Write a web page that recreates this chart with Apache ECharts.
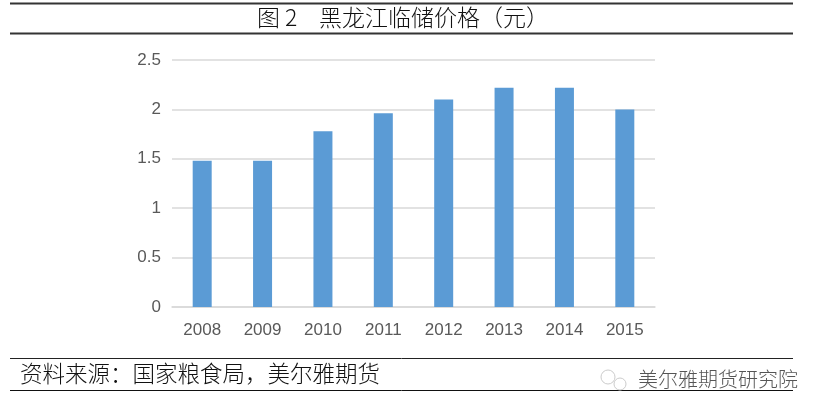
<!DOCTYPE html>
<html>
<head>
<meta charset="utf-8">
<style>html,body{margin:0;padding:0;background:#fff}#c{width:825px;height:416px}</style>
<script src="https://cdn.jsdelivr.net/npm/echarts@6/dist/echarts.min.js"></script>
</head>
<body>
<div id="c"></div>
<script>
const categories = ['2008','2009','2010','2011','2012','2013','2014','2015'];
const prices = [1.48,1.48,1.78,1.96,2.1,2.22,2.22,2.0];
const yTicks = {min:0,max:2.5,interval:0.5};
const titleLabel = '图 2';
const titleText = '黑龙江临储价格（元）';
const sourceText = '资料来源：国家粮食局，美尔雅期货';
const watermarkText = '美尔雅期货研究院';
const cjk = '"Noto Sans CJK SC",sans-serif';
const latin = '"Liberation Sans",Arial,sans-serif';
const chart = echarts.init(document.getElementById('c'),null,{renderer:'canvas'});
function rule(y,w,c){return {type:'line',shape:{x1:10,y1:y,x2:793,y2:y},style:{stroke:c,lineWidth:w}};}
chart.setOption({
  animation:false,
  backgroundColor:'#fff',
  grid:{left:172,right:170,top:60,bottom:109},
  xAxis:{type:'category',data:categories,
    axisLine:{lineStyle:{color:'#d9d9d9',width:1.5}},axisTick:{show:false},
    axisLabel:{color:'#595959',fontSize:17,fontFamily:latin,margin:15}},
  yAxis:{type:'value',min:yTicks.min,max:yTicks.max,interval:yTicks.interval,
    axisLine:{show:false},axisTick:{show:false},
    axisLabel:{color:'#595959',fontSize:17,fontFamily:latin,margin:11,padding:[5,0,0,0],formatter:v=>String(v)},
    splitLine:{lineStyle:{color:'#d9d9d9',width:1.5}}},
  series:[{type:'bar',data:prices,barWidth:19,itemStyle:{color:'#5b9bd5'}}],
  graphic:[
    rule(3.5,2,'#333'),rule(33.5,2,'#333'),rule(358.5,1,'#222'),rule(390.5,1,'#111'),
    {type:'text',left:257,top:6,style:{text:titleLabel,fill:'#111',font:'300 23px '+cjk}},
    {type:'text',left:319,top:6,style:{text:titleText,fill:'#111',font:'300 23px '+cjk}},
    {type:'text',left:20,top:362,style:{text:sourceText,fill:'#111',font:'300 22.5px '+cjk}},
    {type:'text',left:638,top:369,style:{text:watermarkText,fill:'#555',font:'300 20px '+cjk}},
    {type:'circle',shape:{cx:608,cy:377,r:7},style:{fill:'none',stroke:'#ccc',lineWidth:1}},
    {type:'circle',shape:{cx:620,cy:384,r:6},style:{fill:'none',stroke:'#ccc',lineWidth:1}}
  ]
});
</script>
</body>
</html>
